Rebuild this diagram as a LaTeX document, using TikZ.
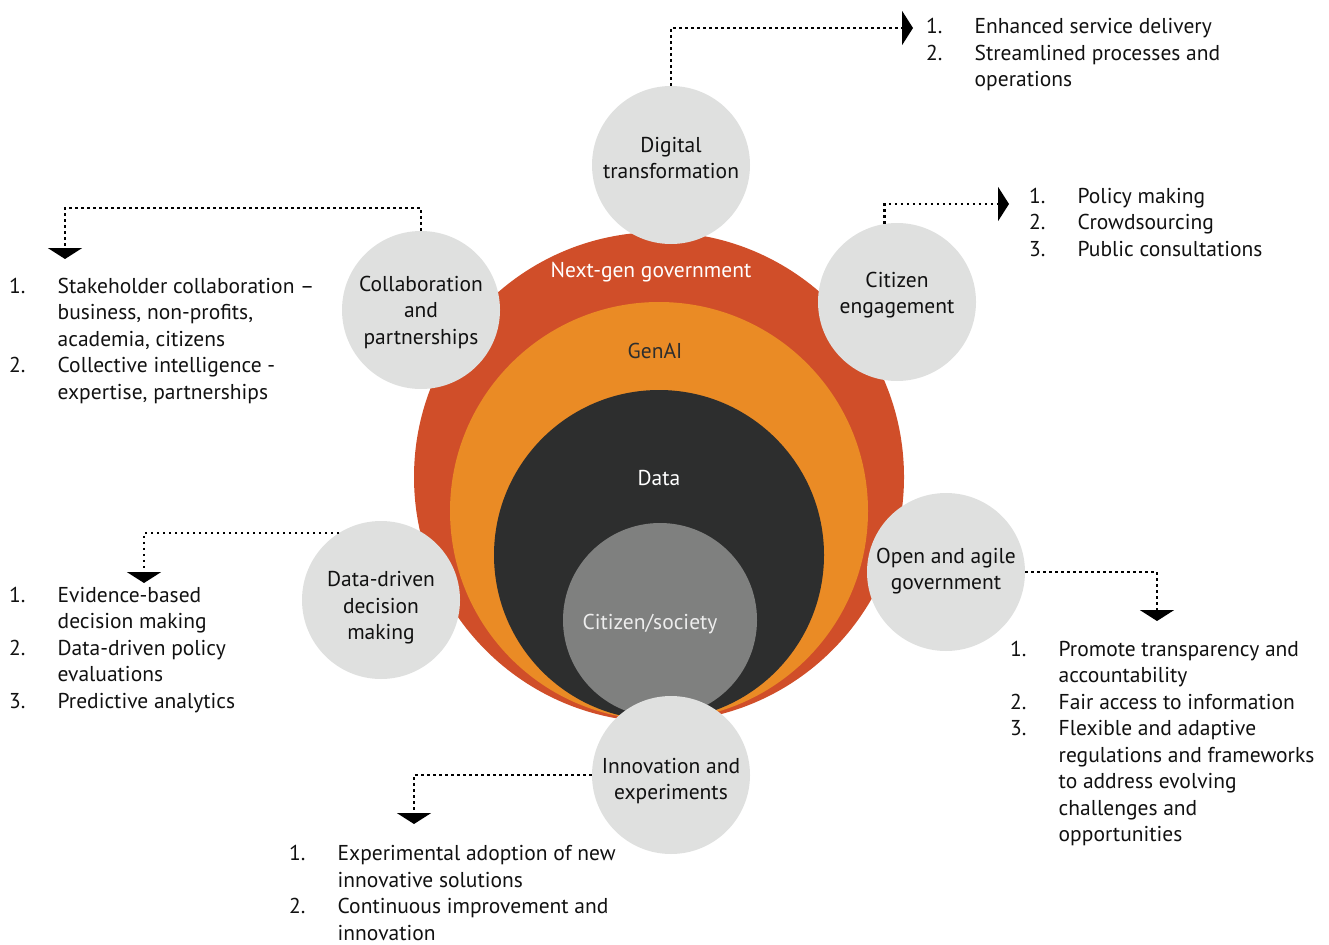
\documentclass[tikz,border=0pt]{standalone}
\usepackage{fontspec}
\setmainfont{PT Sans}
\usetikzlibrary{arrows.meta}
\definecolor{ngred}{HTML}{D04E29}
\definecolor{aiorange}{HTML}{EA8B25}
\definecolor{datadark}{HTML}{2D2E2E}
\definecolor{citgray}{HTML}{7F807F}
\definecolor{satgray}{HTML}{DFE0DF}
\definecolor{txt}{HTML}{111111}
\newcommand{\lst}[1]{\begin{tabular}[t]{@{}p{48.5pt}@{}l@{}}#1\end{tabular}}
\begin{document}
\begin{tikzpicture}[x=1pt,y=-1pt,
  font=\fontsize{21.5}{26.5}\selectfont,
  sat/.style={circle,fill=satgray,minimum size=158pt,inner sep=0pt},
  satlabel/.style={align=center,text=txt,inner sep=0pt},
  ring/.style={circle,inner sep=0pt},
  conn/.style={draw=black,line width=2.5pt,dash pattern=on 2.5pt off 3.5pt,
    -{Triangle[width=34pt,length=11pt]}},
  listnode/.style={anchor=base west,inner sep=0pt,text=txt}]
\useasboundingbox (0,0) rectangle (1329,944);
% concentric circles
\node[ring,fill=ngred,minimum size=490pt] (ng) at (659,477) {};
\node[ring,fill=aiorange,minimum size=418pt] (ai) at (659,511) {};
\node[ring,fill=datadark,minimum size=330pt] (da) at (659,555) {};
\node[ring,fill=citgray,minimum size=194pt] (cs) at (660,620) {};
\node[text=white,inner sep=0pt] (ngl) at (651,272) {Next-gen government};
\node[text=datadark,inner sep=0pt] (ail) at (655,351) {GenAI};
\node[text=white,inner sep=0pt] (dal) at (659,478) {Data};
\node[text=white!93!black,inner sep=0pt] (csl) at (650,624) {Citizen/society};
% satellites
\node[sat] (dt) at (671,165) {};
\node[sat] (ce) at (897,302) {};
\node[sat] (cp) at (421,310) {};
\node[sat] (dd) at (381,600) {};
\node[sat] (oa) at (946,572) {};
\node[sat] (ie) at (671,775) {};
\node[satlabel] (dtl) at (671,158) {Digital\\transformation};
\node[satlabel] (cel) at (897,295) {Citizen\\engagement};
\node[satlabel] (cpl) at (421,312) {Collaboration\\and\\partnerships};
\node[satlabel] (ddl) at (381,608) {Data-driven\\decision\\making};
\node[satlabel] (oal) at (946,571) {Open and agile\\government};
\node[satlabel] (iel) at (671,781) {Innovation and\\experiments};
% arrow tips
\coordinate (t1) at (913,28);
\coordinate (t2) at (1009,204);
\coordinate (k3) at (65,208);
\coordinate (t3) at (65,259);
\coordinate (t4) at (144,583);
\coordinate (t5) at (1157,621);
\coordinate (t6) at (414,824);
% connectors
\draw[conn] (dt.north) |- (t1);
\draw[conn] (ce.99.5) |- (t2);
\draw[conn] (cp.north) |- (k3) -- (t3);
\draw[conn] (dd.122) -| (t4);
\draw[conn] (oa.east) -| (t5);
\draw[conn] (ie.west) -| (t6);
% lists
\node[listnode] (l1) at (926,34) {\lst{1. & Enhanced service delivery\\ 2. & Streamlined processes and\\ & operations}};
\node[listnode] (l2) at (1029,203) {\lst{1. & Policy making\\ 2. & Crowdsourcing\\ 3. & Public consultations}};
\node[listnode] (l3) at (9,293) {\lst{1. & Stakeholder collaboration –\\ & business, non-profits,\\ & academia, citizens\\ 2. & Collective intelligence -\\ & expertise, partnerships}};
\node[listnode] (l4) at (9,602) {\lst{1. & Evidence-based\\ & decision making\\ 2. & Data-driven policy\\ & evaluations\\ 3. & Predictive analytics}};
\node[listnode] (l5) at (1010,656) {\lst{1. & Promote transparency and\\ & accountability\\ 2. & Fair access to information\\ 3. & Flexible and adaptive\\ & regulations and frameworks\\ & to address evolving\\ & challenges and\\ & opportunities}};
\node[listnode] (l6) at (289,860.5) {\lst{1. & Experimental adoption of new\\ & innovative solutions\\ 2. & Continuous improvement and\\ & innovation}};
\end{tikzpicture}
\end{document}
